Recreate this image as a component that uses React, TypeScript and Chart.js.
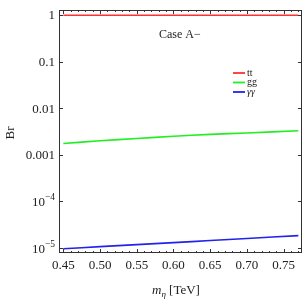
import React, { useEffect, useRef } from "react";
import { Chart, registerables } from "chart.js";

Chart.register(...registerables);

const X_VALUES = [0.45, 0.5, 0.55, 0.6, 0.65, 0.7, 0.77];
const BR_TT = [0.99, 0.99, 0.99, 0.99, 0.99, 0.99, 0.99];
const BR_GG = [1.75e-3, 2.0e-3, 2.25e-3, 2.5e-3, 2.75e-3, 2.95e-3, 3.3e-3];
const BR_AA = [9.7e-6, 1.074e-5, 1.187e-5, 1.31e-5, 1.45e-5, 1.61e-5, 1.85e-5];

const X_TICKS = [0.45, 0.5, 0.55, 0.6, 0.65, 0.7, 0.75];
const Y_TICKS = [1, 0.1, 0.01, 0.001, 1e-4, 1e-5];
const Y_TICK_LABELS: [string, string][] = [
  ["1", ""],
  ["0.1", ""],
  ["0.01", ""],
  ["0.001", ""],
  ["10", "\u22124"],
  ["10", "\u22125"],
];
const SERIES_NAMES = ["tt", "gg", "\u03b3\u03b3"];
const SERIES_COLORS = ["#ff3030", "#22ee22", "#2222ee"];

const FONT = '"Liberation Serif", "DejaVu Serif", serif';

const framePlugin = {
  id: "framePlugin",
  afterDraw(chart: any) {
    const { ctx, chartArea } = chart;
    const { left, right, top, bottom } = chartArea;
    const xs = chart.scales.x;
    const ys = chart.scales.y;
    ctx.save();
    ctx.strokeStyle = "#333";
    ctx.lineWidth = 1;
    ctx.strokeRect(Math.round(left) + 0.5, Math.round(top) + 0.5, Math.round(right - left) - 1, Math.round(bottom - top) - 1);

    ctx.beginPath();
    for (let i = 44; i <= 78; i++) {
      const v = i / 100;
      if (v < xs.min || v > xs.max) continue;
      const major = i % 5 === 0;
      const len = major ? 4 : 2;
      const px = Math.round(xs.getPixelForValue(v)) + 0.5;
      ctx.moveTo(px, bottom);
      ctx.lineTo(px, bottom - len);
      ctx.moveTo(px, top);
      ctx.lineTo(px, top + len);
    }
    for (const v of Y_TICKS) {
      const py = Math.round(ys.getPixelForValue(v)) + 0.5;
      ctx.moveTo(left, py);
      ctx.lineTo(left + 4, py);
      ctx.moveTo(right, py);
      ctx.lineTo(right - 4, py);
    }
    ctx.stroke();

    ctx.fillStyle = "#222";
    ctx.textBaseline = "middle";
    Y_TICKS.forEach((v, i) => {
      const py = ys.getPixelForValue(v);
      const [base, sup] = Y_TICK_LABELS[i];
      const xr = left - 4;
      if (!sup) {
        ctx.font = `13px ${FONT}`;
        ctx.textAlign = "right";
        ctx.fillText(base, xr, py + 1);
      } else {
        ctx.font = `9.5px ${FONT}`;
        const sw = ctx.measureText(sup).width;
        ctx.textAlign = "right";
        ctx.fillText(sup, xr, py - 4);
        ctx.font = `13px ${FONT}`;
        ctx.fillText(base, xr - sw, py + 1);
      }
    });

    ctx.save();
    ctx.translate(11, 133);
    ctx.rotate(-Math.PI / 2);
    ctx.font = `13px ${FONT}`;
    ctx.textAlign = "center";
    ctx.textBaseline = "middle";
    ctx.fillText("Br", 0, 0);
    ctx.restore();

    ctx.textBaseline = "alphabetic";
    ctx.textAlign = "left";
    const xt = 152;
    const yt = 294;
    ctx.font = `italic 13px ${FONT}`;
    ctx.fillText("m", xt, yt);
    const mw = ctx.measureText("m").width;
    ctx.font = `italic 9px ${FONT}`;
    ctx.fillText("\u03b7", xt + mw, yt + 3);
    const ew = ctx.measureText("\u03b7").width;
    ctx.font = `13px ${FONT}`;
    ctx.fillText(" [TeV]", xt + mw + ew, yt);

    ctx.font = `12px ${FONT}`;
    ctx.textBaseline = "middle";
    ctx.fillText("Case A\u2212", 159, 35);

    const ly = [73, 82.5, 92];
    SERIES_NAMES.forEach((name, i) => {
      ctx.strokeStyle = SERIES_COLORS[i];
      ctx.lineWidth = 1.8;
      ctx.beginPath();
      ctx.moveTo(233, ly[i]);
      ctx.lineTo(245, ly[i]);
      ctx.stroke();
      ctx.fillStyle = "#222";
      ctx.font = i === 2 ? `italic 10px ${FONT}` : `10px ${FONT}`;
      ctx.fillText(name, 247, ly[i]);
    });
    ctx.restore();
  },
};

export default function App() {
  const ref = useRef<HTMLCanvasElement | null>(null);
  useEffect(() => {
    document.body.style.margin = "0";
    const canvas = ref.current;
    if (!canvas) return;
    const series = [BR_TT, BR_GG, BR_AA];
    const chart = new Chart(canvas, {
      type: "line",
      data: {
        datasets: series.map((vals, i) => ({
          label: SERIES_NAMES[i],
          data: X_VALUES.map((x, j) => ({ x, y: vals[j] })),
          borderColor: SERIES_COLORS[i],
          borderWidth: 1.6,
          pointRadius: 0,
          tension: 0.3,
          fill: false,
        })),
      },
      options: {
        animation: false,
        responsive: false,
        devicePixelRatio: 1,
        layout: { padding: { top: 10, right: 3, left: 0, bottom: 0 } },
        plugins: { legend: { display: false }, tooltip: { enabled: false } },
        scales: {
          x: {
            type: "linear",
            min: 0.4441,
            max: 0.775,
            grid: { display: false, drawTicks: false },
            border: { display: false },
            afterBuildTicks: (scale: any) => {
              scale.ticks = X_TICKS.map((v) => ({ value: v }));
            },
            afterFit: (scale: any) => {
              scale.height = 52;
            },
            ticks: {
              autoSkip: false,
              maxRotation: 0,
              padding: 5,
              color: "#222",
              font: { family: FONT, size: 13 },
              callback: (v: any) => Number(v).toFixed(2),
            },
          },
          y: {
            type: "logarithmic",
            min: 7.85e-6,
            max: 1.28,
            grid: { display: false, drawTicks: false },
            border: { display: false },
            afterBuildTicks: (scale: any) => {
              scale.ticks = Y_TICKS.map((v) => ({ value: v }));
            },
            afterFit: (scale: any) => {
              scale.width = 59;
            },
            ticks: { display: false },
          },
        },
      },
      plugins: [framePlugin],
    } as any);
    return () => chart.destroy();
  }, []);
  return <canvas ref={ref} width={305} height={305} style={{ display: "block", width: 305, height: 305 }} />;
}
